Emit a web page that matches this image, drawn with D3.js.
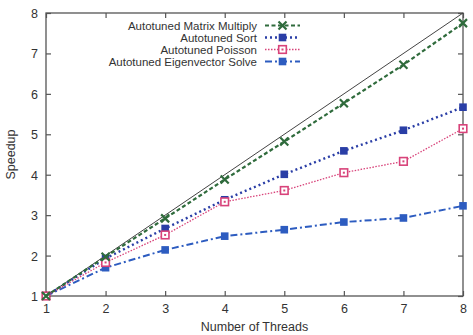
<!DOCTYPE html>
<html>
<head>
<meta charset="utf-8">
<script src="https://cdn.jsdelivr.net/npm/d3@7"></script>
<style>
  html, body { margin: 0; padding: 0; background: #fff; overflow: hidden; }
  svg { display: block; }
  svg text { font-family: "Liberation Sans", Arial, sans-serif; fill: #333; }
</style>
</head>
<body>
<svg width="473" height="335"></svg>
<script>
const threads = [1, 2, 3, 4, 5, 6, 7, 8]
const matrixMultiply = [1, 1.97, 2.92, 3.88, 4.82, 5.77, 6.72, 7.75]
const sortSpeed = [1, 1.93, 2.67, 3.38, 4.01, 4.59, 5.10, 5.67]
const poisson = [1, 1.83, 2.51, 3.33, 3.61, 4.05, 4.33, 5.14]
const eigen = [1, 1.70, 2.14, 2.48, 2.64, 2.83, 2.93, 3.23]
const yTicks = [1, 2, 3, 4, 5, 6, 7, 8]

const svg = d3.select('svg')
const margin = {top: 13, right: 10, bottom: 39, left: 46}
const width = +svg.attr('width')
const height = +svg.attr('height')
const innerWidth = width - margin.left - margin.right
const innerHeight = height - margin.top - margin.bottom
const axisColor = '#555'

const x = d3.scaleLinear().domain([1, 8]).range([0, innerWidth])
const y = d3.scaleLinear().domain([1, 8]).range([innerHeight, 0])

const g = svg.append('g')
	.attr('transform', `translate(${margin.left},${margin.top})`)

// ticks point inward on all four sides
const styleAxis = sel => {
	sel.select('.domain').remove()
	sel.selectAll('line').attr('stroke', axisColor).attr('stroke-width', 1.2)
	sel.selectAll('text').attr('font-size', '12.5px').style('fill', '#333')
}
const tickOnly = sel => {
	styleAxis(sel)
	sel.selectAll('text').remove()
}

g.append('g')
	.attr('transform', `translate(0,${innerHeight})`)
	.call(d3.axisBottom(x).tickValues(threads).tickSize(-5).tickFormat(d3.format('d')))
	.call(styleAxis)
	.call(a => a.selectAll('text').attr('dy', null).attr('y', 17))

g.append('g')
	.call(d3.axisTop(x).tickValues(threads).tickSize(-5))
	.call(tickOnly)

g.append('g')
	.call(d3.axisLeft(y).tickValues(yTicks).tickSize(-5).tickFormat(d3.format('d')))
	.call(styleAxis)
	.call(a => a.selectAll('text').attr('dy', null).attr('x', -8).attr('y', 4.5))

g.append('g')
	.attr('transform', `translate(${innerWidth},0)`)
	.call(d3.axisRight(y).tickValues(yTicks).tickSize(-5))
	.call(tickOnly)

g.append('rect')
	.attr('width', innerWidth)
	.attr('height', innerHeight)
	.attr('fill', 'none')
	.attr('stroke', axisColor)
	.attr('stroke-width', 1.3)

// ideal linear speedup
g.append('line')
	.attr('x1', x(1)).attr('y1', y(1))
	.attr('x2', x(8)).attr('y2', y(8))
	.attr('stroke', '#444')
	.attr('stroke-width', 1)

const series = [
	{name: 'Autotuned Eigenvector Solve', values: eigen, color: '#2d5cc0', dash: '7,3,2,3', width: 2, marker: 'filled'},
	{name: 'Autotuned Sort', values: sortSpeed, color: '#2a3ea6', dash: '2,3', width: 2.4, marker: 'filled'},
	{name: 'Autotuned Poisson', values: poisson, color: '#d8437a', dash: '1.5,1.5', width: 1.3, marker: 'open'},
	{name: 'Autotuned Matrix Multiply', values: matrixMultiply, color: '#2f6b3c', dash: '4,2.5', width: 2.2, marker: 'cross'}
]

const line = d3.line()
	.x((d, i) => x(threads[i]))
	.y(d => y(d))

const drawMarker = (sel, s, px, py) => {
	if (s.marker === 'cross') {
		const r = 4
		sel.append('path')
			.attr('d', `M${px - r},${py - r}L${px + r},${py + r}M${px - r},${py + r}L${px + r},${py - r}`)
			.attr('stroke', s.color).attr('stroke-width', 2.2)
	} else if (s.marker === 'filled') {
		sel.append('rect')
			.attr('x', px - 3.8).attr('y', py - 3.8)
			.attr('width', 7.6).attr('height', 7.6)
			.attr('fill', s.color)
	} else {
		sel.append('rect')
			.attr('x', px - 3.8).attr('y', py - 3.8)
			.attr('width', 7.6).attr('height', 7.6)
			.attr('fill', '#fff').attr('stroke', s.color).attr('stroke-width', 1.6)
		sel.append('rect')
			.attr('x', px - 1).attr('y', py - 1)
			.attr('width', 2).attr('height', 2)
			.attr('fill', s.color)
	}
}

series.forEach(s => {
	g.append('path')
		.datum(s.values)
		.attr('d', line)
		.attr('fill', 'none')
		.attr('stroke', s.color)
		.attr('stroke-width', s.width)
		.attr('stroke-dasharray', s.dash)
	const mg = g.append('g')
	s.values.forEach((v, i) => drawMarker(mg, s, x(threads[i]), y(v)))
})

// legend, top entry first
const legend = svg.append('g')
const legendOrder = [3, 1, 2, 0]
legendOrder.forEach((k, row) => {
	const s = series[k]
	const ly = 25.5 + row * 12
	legend.append('text')
		.attr('x', 257)
		.attr('y', ly + 4)
		.attr('text-anchor', 'end')
		.attr('font-size', '11.5px')
		.text(s.name)
	legend.append('line')
		.attr('x1', 265).attr('x2', 300)
		.attr('y1', ly).attr('y2', ly)
		.attr('stroke', s.color)
		.attr('stroke-width', s.width)
		.attr('stroke-dasharray', s.dash)
	drawMarker(legend, s, 282.5, ly)
})

svg.append('text')
	.attr('x', margin.left + innerWidth / 2)
	.attr('y', 331)
	.attr('text-anchor', 'middle')
	.attr('font-size', '12.5px')
	.text('Number of Threads')

svg.append('text')
	.attr('transform', `translate(15,${margin.top + innerHeight / 2}) rotate(-90)`)
	.attr('text-anchor', 'middle')
	.attr('font-size', '12.5px')
	.text('Speedup')
</script>
</body>
</html>
